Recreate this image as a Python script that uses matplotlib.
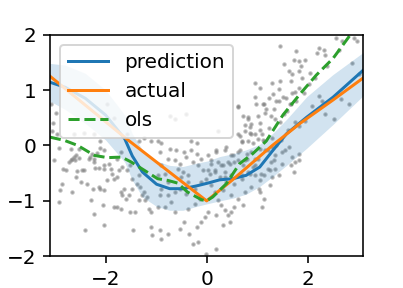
import matplotlib
matplotlib.use("Agg")
import matplotlib.pyplot as plt

x_obs = [-3.02, -2.92, -2.69, -2.66, -2.63, -2.61, -2.69, -2.73, -2.84, -2.79, -2.86, -2.91, -2.66, -2.92,
         -2.59, -2.56, -2.46, -2.43, -2.48, -2.36, -2.30, -2.23, -2.23, -2.20, -2.13, -2.03, -2.03, -2.10,
         -2.13, -2.03, -2.25, -2.28, -2.05, -2.23, -2.03, -2.40, -1.93, -1.90, -1.87, -1.84, -1.77, -1.70,
         -1.67, -1.64, -1.60, -1.84, -1.77, -1.70, -1.54, -1.51, -1.45, -1.47, -1.37, -1.31, -1.27, -1.24,
         -1.21, -1.18, -1.14, -1.11, -1.11, -1.08, -1.34, -1.41, -1.47, -1.34, -1.74, -1.67, -1.57, -1.51,
         -1.97, -1.77, -1.70, -2.03, -2.17, -2.10, -2.26, -2.53, -2.59, -2.53, -2.33,
         -3.08, -2.97, -3.04, -2.96, -3.06, -2.63, -2.43, -2.23, -1.97, -1.84, -1.57, -1.24, -1.11, -1.34, -2.10,
         -0.73, -0.40, -0.63, 0.22, -0.30, -0.20, -0.90, -0.96, 0.95, 0.98, 0.82, 0.88, 0.75, 0.85, 0.95,
         0.65, 0.69, 0.82, 0.92, 0.62,
         2.55, 2.68, 2.91, 2.98, 1.46, 2.22, 2.32, 1.76, 2.19, 2.35, 2.61, 1.72, 1.82, 1.95, 1.53, 1.86,
         2.38, 1.62, 1.82, 1.69, 2.05, 1.89, 1.46, 1.66, 2.15, 1.29, 2.02, 1.82, 1.43, 1.06, 1.69, 1.92,
         1.23, 1.56, 1.76, 1.43, 1.13, 1.66, 1.33, 1.16, 1.53, 1.36, 1.06, 1.23, 1.10, 1.29, 1.13,
         2.22, 2.28, 2.09, 2.52, 2.81, 2.65, 2.35, 1.95, 1.82, 3.01, 2.88,
         -0.93, -0.73, -0.60, -0.44, -0.30, -0.20, 0.19, 0.39, 0.65, 0.88, -0.63, -0.53, -0.57, -0.47,
         -0.50, -0.37, -0.37, -0.96, -0.83, -0.77, -0.90, -0.93, -0.77, -0.70, -0.83, -0.96, -0.63, -0.53,
         -0.40, -0.24, -0.11, -0.01, 0.06, 0.16, 0.29, 0.42, 0.52, 0.62, 0.72, 0.79, 0.85, 0.95, 0.69,
         0.55, 0.39, 0.26, 0.09, 0.16, 0.22, 0.29, 0.36, 0.42, 0.49, 0.55, 0.46, 0.32, 0.19, 0.03, -0.04,
         -0.11, -0.20, -0.34, -0.17, -0.27, -0.01, 0.19, -0.44, -0.53, -0.77, -0.93, -0.90, -0.63, -0.37,
         -0.24, -0.14, 0.72, 0.62, 0.75, 0.49, 0.32, 0.88, 0.95, 1.02, -0.17, -0.07, -0.27, -0.40, -0.77,
         -0.90, -0.11, 0.03, 0.09, 0.36, 0.49,
         1.06, 1.16, 1.29, 1.49, 1.62, 1.82, 1.82, 1.66, 1.72, 1.33, 1.49, 1.36, 1.26, 1.43, 1.29, 1.13,
         1.06, 1.26, 1.03, 1.06, 1.13, 1.10,
         0.62, 0.72, 0.82, 0.75, 0.85, 0.62, 0.88, 1.05, 1.02, 1.12, 0.69, 0.19, 0.36, 0.49, 0.62, 0.79,
         0.09, 0.22, 0.32, 0.46, 0.55, 0.75, 0.95, 0.92, 0.82, 0.69, 0.03, 0.16, 0.36, 1.08, 1.21, 1.28,
         1.35, 1.21, 1.38, 1.48, 1.55, 1.68, 1.74, 1.61, 1.74, 1.45, 1.28, 1.18, 1.12, 1.38, 1.51, 1.64,
         1.74, 1.58, 1.02, 1.31, 0.95]
y_obs = [-0.26, -0.05, -0.07, -0.24, -0.21, -0.27, -0.27, -0.29, -0.42, -0.45, -0.69, -0.81, -0.84, -1.02,
         -0.57, -0.47, -0.45, -0.44, -0.66, -0.69, -0.21, -0.30, -0.24, -0.41, -0.41, -0.36, -0.42, -0.78,
         -0.75, -0.81, -0.78, -0.98, -1.08, -1.23, -1.43, -1.53, -0.33, -0.43, -0.51, -0.60, -0.57, -0.84,
         -0.90, -0.78, -0.96, -1.11, -1.11, -1.14, -0.90, -1.20, -1.53, -0.78, -0.69, -0.75, -0.90, -0.84,
         -0.99, -0.93, -1.14, -1.20, -1.47, -1.62, -0.99, -1.20, -0.60, -0.54, -0.45, -0.39, -0.45, -0.36,
         -0.63, -0.24, -0.12, -0.09, -0.13, -0.05, -0.15, -0.06, -0.18, -0.23, -0.24,
         0.74, 0.59, 0.41, 0.20, 0.26, 0.20, 0.23, 0.20, 0.74, 0.50, 0.20, 0.14, 0.08, 0.08, 0.08,
         0.53, 0.56, 0.47, 0.26, 0.08, 0.05, 0.05, 0.08, 1.13, 0.74, 0.47, 0.38, 0.26, 0.23, 0.20,
         0.17, 0.08, 0.08, 0.05, 0.71,
         1.94, 1.88, 1.93, 1.88, 1.79, 1.76, 1.73, 1.70, 1.67, 1.64, 1.73, 1.55, 1.52, 1.55, 1.46, 1.43,
         1.43, 1.34, 1.34, 1.28, 1.31, 1.22, 1.16, 1.16, 1.22, 1.13, 1.10, 1.04, 1.01, 1.04, 0.95, 0.95,
         0.86, 0.86, 0.80, 0.80, 0.74, 0.74, 0.65, 0.59, 0.56, 0.47, 0.41, 0.32, 0.20, 0.14, 0.08,
         0.89, 0.80, 0.71, 0.47, 0.74, 0.83, 0.56, 0.44, 0.35, 1.28, 1.49,
         -0.12, -0.06, -0.09, -0.11, -0.09, -0.15, -0.09, -0.03, -0.09, -0.12, -0.27, -0.33, -0.42, -0.48,
         -0.57, -0.54, -0.66, -0.54, -0.51, -0.66, -0.78, -0.90, -0.90, -1.02, -1.11, -1.11, -0.84, -0.78,
         -0.87, -0.78, -0.66, -0.60, -0.51, -0.45, -0.36, -0.30, -0.18, -0.27, -0.36, -0.24, -0.51, -0.54, -0.60,
         -0.69, -0.66, -0.57, -0.72, -0.84, -0.99, -1.08, -1.17, -1.26, -1.20, -1.11, -1.38, -1.44, -1.26, -1.20, -1.29,
         -1.38, -1.47, -1.59, -1.74, -1.77, -1.95, -1.86, -1.38, -1.50, -1.59, -1.53, -1.68, -1.20, -1.14,
         -1.05, -0.96, -1.08, -0.96, -0.84, -0.90, -0.81, -0.75, -0.36, -0.24, -0.36, -0.45, -0.30, -0.21, -0.24,
         -0.36, -0.24, -0.18, -0.33, -0.48, -0.54,
         -0.06, -0.09, -0.03, -0.12, -0.03, -0.15, -0.27, -0.36, -0.48, -0.27, -0.33, -0.42, -0.45, -0.54, -0.57, -0.54,
         -0.63, -0.72, -0.78, -0.84, -0.96, -1.11,
         0.69, 0.54, 0.51, 0.36, 0.33, 0.21, 0.21, 0.27, 0.12, 0.09, 0.06, -0.12, -0.09, -0.18, -0.12, -0.15,
         -0.27, -0.30, -0.36, -0.33, -0.30, -0.27, -0.24, -0.39, -0.48, -0.54, -0.45, -0.48, -0.57, -0.51, -0.42, -0.30,
         -0.18, -0.09, 0.00, 0.09, -0.09, -0.21, -0.30, 0.27, 0.42, 0.42, 0.54, 0.66, 0.75, 0.81, 0.87, 0.75,
         0.96, 0.63, 0.54, 0.93, 0.87]

# model prediction with uncertainty band
x_pred = [-3.1, -2.8, -2.4, -2.0, -1.62, -1.47, -1.27, -0.99, -0.73, -0.47, -0.2, 0.02, 0.26, 0.52, 0.78,
          1.05, 1.31, 1.58, 1.98, 2.5, 3.1]
y_pred = [1.14, 1.05, 0.85, 0.55, 0.12, -0.19, -0.48, -0.70, -0.78, -0.78, -0.73, -0.68, -0.62, -0.60, -0.54,
          -0.39, -0.09, 0.21, 0.51, 0.87, 1.36]
y_upper = [1.48, 1.45, 1.3, 1.0, 0.55, 0.21, -0.08, -0.28, -0.36, -0.38, -0.32, -0.28, -0.2, -0.15, -0.08,
           0.02, 0.22, 0.47, 0.88, 1.28, 1.68]
y_lower = [0.80, 0.65, 0.4, 0.1, -0.3, -0.63, -0.93, -1.1, -1.17, -1.17, -1.1, -1.05, -1.0, -0.95, -0.88,
           -0.74, -0.56, -0.36, -0.05, 0.38, 0.9]

# true function
x_true = [-3.1, -1.6, 0.0, 0.5, 1.3, 1.85, 2.5, 3.1]
y_true = [1.25, 0.13, -1.0, -0.63, 0.0, 0.4, 0.82, 1.22]

# ordinary least squares fit
x_ols = [-3.1, -2.81, -2.55, -2.22, -1.96, -1.68, -1.49, -1.23, -0.97, -0.77, -0.57, -0.38, -0.1, 0.0,
         0.12, 0.39, 0.65, 0.91, 1.18, 1.51, 1.84, 2.17, 2.5, 2.83, 3.1]
y_ols = [0.15, 0.09, 0.0, -0.18, -0.22, -0.21, -0.30, -0.45, -0.60, -0.63, -0.68, -0.84, -0.98, -1.0,
         -0.93, -0.69, -0.33, -0.15, 0.08, 0.55, 0.92, 1.27, 1.57, 1.98, 2.35]

plt.figure(figsize=(2.8, 2.0), dpi=144)
plt.scatter(x_obs, y_obs, s=1.5, color='gray', alpha=0.5)
plt.plot(x_pred, y_pred, label='prediction')
plt.fill_between(x_pred, y_lower, y_upper, color='C0', alpha=0.2, linewidth=0)
plt.plot(x_true, y_true, label='actual')
plt.plot(x_ols, y_ols, '--', label='ols')
plt.xlim(-3.09, 3.09)
plt.ylim(-2, 2)
plt.xticks([-2, 0, 2])
plt.yticks([-2, -1, 0, 1, 2])
plt.legend(loc='upper left')
plt.savefig('out.png')
